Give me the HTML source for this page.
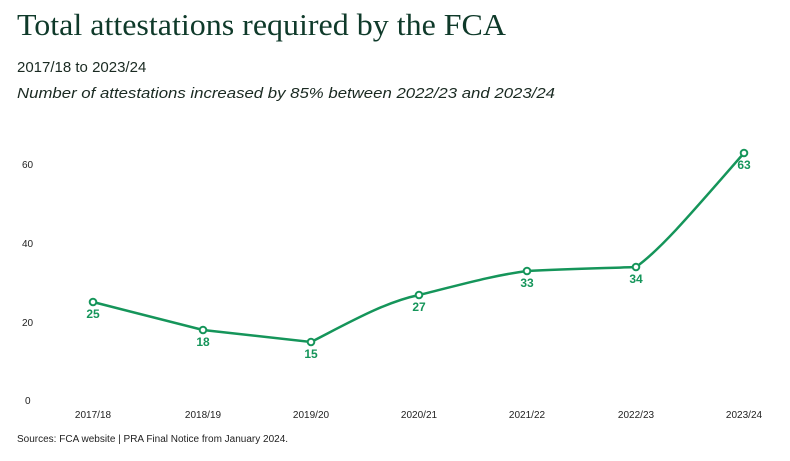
<!DOCTYPE html>
<html><head><meta charset="utf-8"><style>
body{margin:0;width:790px;height:456px;background:#fff;overflow:hidden;font-family:"Liberation Sans",sans-serif;}
</style></head><body>
<svg width="790" height="456" xmlns="http://www.w3.org/2000/svg">
<text x="17" y="35" font-family="Liberation Serif,serif" font-size="31" fill="#0f3a2a" textLength="489" lengthAdjust="spacingAndGlyphs">Total attestations required by the FCA</text>
<text x="17" y="72" font-size="15" fill="#1a2a22">2017/18 to 2023/24</text>
<text x="17" y="98" font-size="15" font-style="italic" fill="#1a2a22" textLength="538" lengthAdjust="spacingAndGlyphs">Number of attestations increased by 85% between 2022/23 and 2023/24</text>
<g font-size="10" fill="#222">
<text x="22" y="168">60</text><text x="22" y="247">40</text><text x="22" y="326">20</text><text x="25" y="404">0</text>
</g>
<g font-size="10" fill="#222" text-anchor="middle">
<text x="93" y="418">2017/18</text><text x="203" y="418">2018/19</text><text x="311" y="418">2019/20</text><text x="419" y="418">2020/21</text><text x="527" y="418">2021/22</text><text x="636" y="418">2022/23</text><text x="744" y="418">2023/24</text>
</g>
<path d="M93,302 L203,330 L311,342 C350,322 385,302 419,295 C460,285 490,276 527,271 C570,269 610,268 636,267 C660,250 690,215 744,153" fill="none" stroke="#15955a" stroke-width="2.5"/>
<g fill="#fff" stroke="#15955a" stroke-width="2">
<circle cx="93" cy="302" r="3.3"/><circle cx="203" cy="330" r="3.3"/><circle cx="311" cy="342" r="3.3"/><circle cx="419" cy="295" r="3.3"/><circle cx="527" cy="271" r="3.3"/><circle cx="636" cy="267" r="3.3"/><circle cx="744" cy="153" r="3.3"/>
</g>
<g font-size="12" font-weight="bold" fill="#15955a" text-anchor="middle">
<text x="93" y="318">25</text><text x="203" y="346">18</text><text x="311" y="358">15</text><text x="419" y="311">27</text><text x="527" y="287">33</text><text x="636" y="283">34</text><text x="744" y="169">63</text>
</g>
<text x="17" y="442" font-size="10" fill="#222">Sources: FCA website | PRA Final Notice from January 2024.</text>
</svg>
</body></html>
